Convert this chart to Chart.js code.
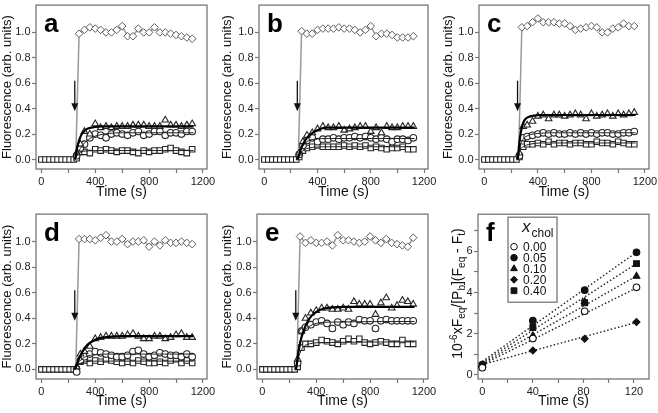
<!DOCTYPE html>
<html>
<head>
<meta charset="utf-8">
<script src="https://cdn.jsdelivr.net/npm/chart.js@4.4.1/dist/chart.umd.min.js"></script>
<style>
  html, body { margin: 0; padding: 0; background: #fff; }
  body { width: 658px; height: 413px; overflow: hidden; position: relative; }
  canvas { position: absolute; }
</style>
</head>
<body>
<canvas id="pa"></canvas>
<canvas id="pb"></canvas>
<canvas id="pc"></canvas>
<canvas id="pd"></canvas>
<canvas id="pe"></canvas>
<canvas id="pf"></canvas>
<script>
// ---- axes ----
const timeTicks = [0, 200, 400, 600, 800, 1000, 1200];
const timeLabels = [0, 400, 800, 1200];
const fluorTicks = [0, 0.2, 0.4, 0.6, 0.8, 1.0];

// ---- sampling times (s) ----
const baseTimes = [0, 30, 60, 90, 120, 150, 180, 210, 240];
const baseValues = [0, 0, 0, 0, 0, 0, 0, 0, 0];
const diamondTimes = [255, 280, 320, 360, 400, 440, 480, 520, 560, 600, 640, 680, 720, 760, 800, 840, 880, 920, 960, 1000, 1040, 1080, 1120];
const postTimes = [262, 290, 320, 360, 400, 440, 480, 520, 560, 600, 640, 680, 720, 760, 800, 840, 880, 920, 960, 1000, 1040, 1080, 1120];

// ---- panel a ----
const aDiamond = [0, 0.99, 1.02, 1.04, 1.03, 1.02, 1.00, 1.00, 1.02, 1.05, 0.97, 0.97, 1.03, 1.00, 1.00, 1.04, 1.00, 1.00, 0.99, 0.98, 0.97, 0.96, 0.95];
const aTriangle = [0.05, 0.12, 0.22, 0.20, 0.28, 0.25, 0.26, 0.25, 0.26, 0.26, 0.26, 0.27, 0.27, 0.27, 0.26, 0.26, 0.26, 0.31, 0.27, 0.27, 0.26, 0.27, 0.28];
const aCircle = [0.03, 0.09, 0.12, 0.17, 0.20, 0.19, 0.17, 0.20, 0.21, 0.20, 0.19, 0.21, 0.22, 0.19, 0.20, 0.22, 0.22, 0.19, 0.21, 0.21, 0.20, 0.22, 0.22];
const aSquare = [0.01, 0.06, 0.06, 0.05, 0.08, 0.07, 0.08, 0.07, 0.06, 0.07, 0.07, 0.06, 0.05, 0.07, 0.06, 0.07, 0.07, 0.08, 0.09, 0.07, 0.06, 0.05, 0.08];
const aTriFit = [[250, 0], [265, 0.09], [280, 0.15], [300, 0.20], [325, 0.23], [350, 0.245], [400, 0.256], [450, 0.26], [1130, 0.26]];
const aCircFit = [[250, 0], [280, 0.07], [320, 0.13], [360, 0.165], [420, 0.19], [500, 0.205], [600, 0.21], [1130, 0.21]];
const aSqFit = [[250, 0], [270, 0.04], [300, 0.06], [350, 0.068], [450, 0.07], [1130, 0.07]];

// ---- panel b ----
const bDiamond = [0, 1.01, 0.99, 0.99, 1.02, 1.03, 1.03, 1.03, 1.04, 1.03, 1.03, 1.02, 1.00, 1.02, 1.05, 0.97, 0.99, 0.99, 0.98, 0.96, 0.96, 0.96, 0.97];
const bTriangle = [0.05, 0.14, 0.19, 0.21, 0.24, 0.26, 0.25, 0.25, 0.26, 0.23, 0.24, 0.25, 0.26, 0.26, 0.22, 0.25, 0.21, 0.26, 0.25, 0.25, 0.26, 0.26, 0.26];
const bCircle = [0.04, 0.11, 0.15, 0.17, 0.14, 0.16, 0.16, 0.17, 0.16, 0.17, 0.17, 0.18, 0.17, 0.18, 0.17, 0.16, 0.17, 0.16, 0.14, 0.16, 0.16, 0.15, 0.17];
const bSquare = [0.02, 0.07, 0.09, 0.10, 0.11, 0.10, 0.10, 0.10, 0.10, 0.11, 0.10, 0.11, 0.10, 0.11, 0.09, 0.10, 0.09, 0.08, 0.09, 0.09, 0.10, 0.08, 0.08];
const bTriFit = [[250, 0], [270, 0.07], [290, 0.12], [320, 0.17], [350, 0.20], [380, 0.22], [420, 0.24], [470, 0.25], [1130, 0.25]];
const bCircFit = [[250, 0], [280, 0.09], [320, 0.14], [380, 0.16], [480, 0.165], [1130, 0.165]];
const bSqFit = [[250, 0], [280, 0.06], [320, 0.085], [380, 0.097], [480, 0.10], [1130, 0.10]];

// ---- panel c ----
const cDiamond = [0, 1.04, 1.05, 1.08, 1.11, 1.08, 1.08, 1.08, 1.07, 1.07, 1.05, 1.02, 1.03, 1.04, 1.05, 1.04, 1.00, 1.00, 1.03, 1.04, 1.07, 1.05, 1.05];
const cTriangle = [0.05, 0.26, 0.27, 0.30, 0.34, 0.35, 0.32, 0.35, 0.35, 0.34, 0.35, 0.36, 0.35, 0.32, 0.36, 0.34, 0.35, 0.36, 0.34, 0.36, 0.35, 0.36, 0.37];
const cCircle = [0.03, 0.17, 0.18, 0.19, 0.20, 0.21, 0.20, 0.21, 0.20, 0.20, 0.21, 0.20, 0.21, 0.20, 0.21, 0.20, 0.21, 0.21, 0.20, 0.20, 0.21, 0.21, 0.22];
const cSquare = [0.02, 0.10, 0.12, 0.12, 0.13, 0.12, 0.14, 0.12, 0.13, 0.13, 0.12, 0.13, 0.13, 0.12, 0.12, 0.14, 0.13, 0.13, 0.12, 0.14, 0.13, 0.12, 0.12];
const cTriFit = [[250, 0], [260, 0.12], [270, 0.20], [285, 0.27], [300, 0.31], [330, 0.335], [370, 0.345], [420, 0.35], [1130, 0.35]];
const cCircFit = [[250, 0], [265, 0.10], [290, 0.16], [330, 0.19], [400, 0.205], [500, 0.21], [1130, 0.21]];
const cSqFit = [[250, 0], [265, 0.07], [290, 0.10], [340, 0.12], [420, 0.13], [1130, 0.13]];

// ---- panel d ----
const dDiamond = [0, 1.02, 1.02, 1.02, 1.01, 1.03, 1.05, 1.00, 1.00, 1.02, 0.98, 1.00, 1.00, 1.01, 0.96, 1.00, 0.97, 1.01, 0.99, 0.99, 1.00, 0.99, 0.98];
const dTriangle = [0.02, 0.12, 0.14, 0.18, 0.24, 0.25, 0.26, 0.26, 0.26, 0.26, 0.27, 0.28, 0.26, 0.24, 0.24, 0.26, 0.26, 0.24, 0.25, 0.27, 0.28, 0.25, 0.25];
const dCircle = [-0.02, 0.07, 0.10, 0.12, 0.14, 0.13, 0.12, 0.11, 0.10, 0.10, 0.11, 0.14, 0.15, 0.12, 0.10, 0.11, 0.13, 0.12, 0.11, 0.11, 0.10, 0.12, 0.10];
const dSquare = [0.00, 0.06, 0.07, 0.05, 0.07, 0.06, 0.08, 0.07, 0.06, 0.05, 0.06, 0.05, 0.07, 0.06, 0.05, 0.05, 0.06, 0.05, 0.07, 0.08, 0.05, 0.07, 0.05];
const dTriFit = [[250, 0], [270, 0.06], [300, 0.13], [340, 0.19], [380, 0.22], [430, 0.245], [500, 0.255], [600, 0.26], [1130, 0.26]];
const dCircFit = [[250, 0], [280, 0.06], [330, 0.10], [400, 0.115], [500, 0.12], [1130, 0.12]];
const dSqFit = [[250, 0], [280, 0.04], [330, 0.06], [420, 0.065], [1130, 0.065]];

// ---- panel e ----
const eDiamond = [0, 1.04, 0.99, 1.01, 0.99, 0.99, 1.00, 0.97, 1.05, 1.01, 1.01, 1.00, 0.99, 1.00, 1.04, 1.01, 0.99, 1.02, 0.99, 0.98, 0.97, 0.96, 1.03];
const eTriangle = [0.08, 0.30, 0.40, 0.44, 0.46, 0.48, 0.48, 0.47, 0.47, 0.48, 0.47, 0.53, 0.51, 0.51, 0.51, 0.43, 0.52, 0.56, 0.48, 0.50, 0.54, 0.53, 0.51];
const eCircle = [0.05, 0.30, 0.33, 0.35, 0.37, 0.38, 0.36, 0.32, 0.37, 0.35, 0.37, 0.36, 0.39, 0.38, 0.38, 0.32, 0.38, 0.39, 0.38, 0.38, 0.38, 0.38, 0.38];
const eSquare = [0.02, 0.17, 0.20, 0.20, 0.21, 0.23, 0.22, 0.21, 0.20, 0.22, 0.24, 0.22, 0.24, 0.21, 0.20, 0.21, 0.22, 0.21, 0.20, 0.20, 0.23, 0.20, 0.20];
const eTriFit = [[250, 0], [270, 0.15], [290, 0.25], [320, 0.34], [350, 0.40], [400, 0.45], [450, 0.475], [520, 0.485], [600, 0.49], [1130, 0.49]];
const eCircFit = [[250, 0], [270, 0.17], [300, 0.28], [340, 0.33], [400, 0.36], [500, 0.37], [1130, 0.375]];
const eSqFit = [[250, 0], [270, 0.10], [300, 0.17], [350, 0.20], [450, 0.21], [1130, 0.215]];

// ---- panel f ----
const fTimes = [0, 40, 81, 122];
const fTicksX = [0, 20, 40, 60, 80, 100, 120];
const fLabelsX = [0, 40, 80, 120];
const fTicksY = [0, 1, 2, 3, 4, 5, 6, 7];
const fLabelsY = [0, 2, 4, 6];
const xcholLabels = ['0.00', '0.05', '0.10', '0.20', '0.40'];
const f000 = [0.35, 1.76, 3.09, 4.25];
const f005 = [0.50, 2.63, 4.11, 5.95];
const f010 = [0.45, 1.90, 3.55, 4.79];
const f020 = [0.40, 1.18, 1.75, 2.57];
const f040 = [0.45, 2.30, 3.50, 5.40];
const fFitEnds = [0, 122];
const f000Fit = [0.50, 4.22];
const f005Fit = [0.65, 5.95];
const f010Fit = [0.55, 4.80];
const f020Fit = [0.50, 2.55];
const f040Fit = [0.60, 5.40];

// arrow marking the injection
const arrowTime = 248;
const arrowFrom = 0.62;
const arrowTo = 0.38;

const FONT = "'Liberation Sans', Arial, Helvetica, sans-serif";
Chart.defaults.font.family = FONT;
Chart.defaults.color = '#222';

const pts = (xs, ys) => xs.map((x, i) => ({ x: x, y: ys[i] }));
const pairs = arr => arr.map(p => ({ x: p[0], y: p[1] }));

// box round the plot area
const framePlugin = {
  id: 'frame',
  beforeDatasetsDraw(chart) {
    const { ctx, chartArea: a } = chart;
    ctx.save();
    ctx.strokeStyle = '#777';
    ctx.lineWidth = 1.3;
    ctx.strokeRect(a.left, a.top, a.right - a.left, a.bottom - a.top);
    ctx.restore();
  }
};

const letterPlugin = {
  id: 'letter',
  afterDraw(chart, args, o) {
    if (!o || !o.text) return;
    const { ctx, chartArea: a } = chart;
    ctx.save();
    ctx.font = 'bold 26px ' + FONT;
    ctx.fillStyle = '#000';
    ctx.textBaseline = 'alphabetic';
    ctx.fillText(o.text, a.left + 8, a.top + 27);
    ctx.restore();
  }
};

const arrowPlugin = {
  id: 'arrow',
  afterDatasetsDraw(chart, args, o) {
    if (!o || o.time == null) return;
    const { ctx, scales } = chart;
    const x = scales.x.getPixelForValue(o.time);
    const y1 = scales.y.getPixelForValue(o.from);
    const y2 = scales.y.getPixelForValue(o.to);
    ctx.save();
    ctx.strokeStyle = '#111';
    ctx.fillStyle = '#111';
    ctx.lineWidth = 1.3;
    ctx.beginPath();
    ctx.moveTo(x, y1);
    ctx.lineTo(x, y2 - 6);
    ctx.stroke();
    ctx.beginPath();
    ctx.moveTo(x, y2);
    ctx.lineTo(x - 3.5, y2 - 8);
    ctx.lineTo(x + 3.5, y2 - 8);
    ctx.closePath();
    ctx.fill();
    ctx.restore();
  }
};

// y title of panel f, with sub and superscripts
const fTitlePlugin = {
  id: 'ftitle',
  afterDraw(chart, args, o) {
    if (!o || !o.show) return;
    const { ctx, chartArea: a } = chart;
    const parts = [
      { t: '10', s: 14, dy: 0 }, { t: '-6', s: 10, dy: -5 }, { t: 'xF', s: 14, dy: 0 },
      { t: 'eq', s: 10, dy: 3 }, { t: '/[P', s: 14, dy: 0 }, { t: 'b', s: 10, dy: 3 },
      { t: '](F', s: 14, dy: 0 }, { t: 'eq', s: 10, dy: 3 }, { t: ' - F', s: 14, dy: 0 },
      { t: 't', s: 10, dy: 3 }, { t: ')', s: 14, dy: 0 }
    ];
    ctx.save();
    let total = 0;
    parts.forEach(p => { ctx.font = p.s + 'px ' + FONT; p.w = ctx.measureText(p.t).width; total += p.w; });
    ctx.translate(a.left - 21, (a.top + a.bottom) / 2 - 3);
    ctx.rotate(-Math.PI / 2);
    ctx.fillStyle = '#111';
    ctx.textBaseline = 'alphabetic';
    let x = -total / 2;
    parts.forEach(p => { ctx.font = p.s + 'px ' + FONT; ctx.fillText(p.t, x, 5 + p.dy); x += p.w; });
    ctx.restore();
  }
};

// legend box of panel f
const fLegendPlugin = {
  id: 'flegend',
  afterDraw(chart, args, o) {
    if (!o || !o.show) return;
    const { ctx, chartArea: a } = chart;
    const bx = a.left + 30, by = a.top + 3, bw = 49, bh = 85;
    ctx.save();
    ctx.fillStyle = '#fff';
    ctx.fillRect(bx, by, bw, bh);
    ctx.strokeStyle = '#777';
    ctx.lineWidth = 1.3;
    ctx.strokeRect(bx, by, bw, bh);
    ctx.fillStyle = '#111';
    ctx.textBaseline = 'alphabetic';
    ctx.font = 'italic 17px ' + FONT;
    ctx.fillText('x', bx + 14, by + 15);
    const xw = ctx.measureText('x').width;
    ctx.font = '12px ' + FONT;
    ctx.fillText('chol', bx + 14 + xw + 1, by + 20);
    const items = chart.data.datasets.filter(d => d.xchol);
    items.forEach((d, i) => {
      const yy = by + 29.5 + i * 11;
      ctx.fillStyle = d.backgroundColor;
      ctx.strokeStyle = d.borderColor;
      ctx.lineWidth = 1;
      Chart.helpers.drawPoint(ctx, { pointStyle: d.pointStyle, radius: d.pointRadius, rotation: 0, borderWidth: 1 }, bx + 6, yy);
      ctx.fillStyle = '#111';
      ctx.font = '12px ' + FONT;
      ctx.textBaseline = 'middle';
      ctx.fillText(d.label, bx + 15, yy + 0.5);
      ctx.textBaseline = 'alphabetic';
    });
    ctx.restore();
  }
};

function axisX(cfg) {
  return {
    type: 'linear', min: cfg.min, max: cfg.max,
    afterBuildTicks: s => { s.ticks = cfg.ticks.map(v => ({ value: v })); },
    afterFit: s => { s.height = cfg.h; s.paddingLeft = 0; s.paddingRight = 0; },
    ticks: { autoSkip: false, maxRotation: 0, padding: 2, color: '#222', font: { size: 11 },
             callback: v => cfg.labels.includes(v) ? String(v) : '' },
    grid: { drawOnChartArea: false, tickLength: 4, tickColor: '#777', tickWidth: 1.2 },
    border: { display: false },
    title: { display: true, text: 'Time (s)', color: '#111', font: { size: 14 }, padding: { top: 0, bottom: 4.2 } }
  };
}

function axisY(cfg) {
  return {
    type: 'linear', min: cfg.min, max: cfg.max,
    afterBuildTicks: s => { s.ticks = cfg.ticks.map(v => ({ value: v })); },
    afterFit: s => { s.width = cfg.w; s.paddingTop = 0; s.paddingBottom = 0; },
    ticks: { autoSkip: false, padding: 1.5, color: '#222', font: { size: 11 },
             callback: cfg.fmt },
    grid: { drawOnChartArea: false, tickLength: 4, tickColor: '#777', tickWidth: 1.2 },
    border: { display: false },
    title: { display: !!cfg.title, text: cfg.title || '', color: '#111', font: { size: 13 }, padding: { top: 0, bottom: 0 } }
  };
}

function placeCanvas(id, left, top, w, h) {
  const c = document.getElementById(id);
  c.width = w; c.height = h;
  c.style.left = left + 'px'; c.style.top = top + 'px';
  c.style.width = w + 'px'; c.style.height = h + 'px';
  return c;
}

const kinetics = [
  { id: 'pa', letter: 'a', left: 0,   top: 0,   w: 228, axisW: 36, axisH: 36, padR: 21, dia: aDiamond, tri: aTriangle, circ: aCircle, sq: aSquare, triFit: aTriFit, circFit: aCircFit, sqFit: aSqFit },
  { id: 'pb', letter: 'b', left: 220, top: 0,   w: 228, axisW: 39, axisH: 36, padR: 20, dia: bDiamond, tri: bTriangle, circ: bCircle, sq: bSquare, triFit: bTriFit, circFit: bCircFit, sqFit: bSqFit },
  { id: 'pc', letter: 'c', left: 441, top: 0,   w: 229, axisW: 38, axisH: 36, padR: 21, dia: cDiamond, tri: cTriangle, circ: cCircle, sq: cSquare, triFit: cTriFit, circFit: cCircFit, sqFit: cSqFit },
  { id: 'pd', letter: 'd', left: 0,   top: 209, w: 228, axisW: 36, axisH: 35, padR: 21, dia: dDiamond, tri: dTriangle, circ: dCircle, sq: dSquare, triFit: dTriFit, circFit: dCircFit, sqFit: dSqFit },
  { id: 'pe', letter: 'e', left: 220, top: 209, w: 228, axisW: 37, axisH: 35, padR: 20, dia: eDiamond, tri: eTriangle, circ: eCircle, sq: eSquare, triFit: eTriFit, circFit: eCircFit, sqFit: eSqFit }
];

const markerColor = '#262626';

kinetics.forEach(p => {
  const canvas = placeCanvas(p.id, p.left, p.top, p.w, 205);
  new Chart(canvas, {
    type: 'scatter',
    data: {
      datasets: [
        { label: 'fit triangles', data: pairs(p.triFit), showLine: true, borderColor: '#000', borderWidth: 2.2, pointRadius: 0, cubicInterpolationMode: 'monotone', order: 0 },
        { label: 'fit circles', data: pairs(p.circFit), showLine: true, borderColor: '#222', borderWidth: 1, pointRadius: 0, cubicInterpolationMode: 'monotone', order: 1 },
        { label: 'fit squares', data: pairs(p.sqFit), showLine: true, borderColor: '#222', borderWidth: 1, pointRadius: 0, cubicInterpolationMode: 'monotone', order: 1 },
        { label: 'triangles', data: pts(postTimes, p.tri), pointStyle: 'triangle', pointRadius: 3.8, borderColor: markerColor, backgroundColor: '#fff', borderWidth: 1.1, order: 2 },
        { label: 'circles', data: pts(postTimes, p.circ), pointStyle: 'circle', pointRadius: 3.3, borderColor: markerColor, backgroundColor: '#fff', borderWidth: 1.1, order: 3 },
        { label: 'squares', data: pts(baseTimes, baseValues).concat(pts(postTimes, p.sq)), pointStyle: 'rect', pointRadius: 3.9, borderColor: markerColor, backgroundColor: '#fff', borderWidth: 1.1, order: 4 },
        { label: 'diamonds', data: pts(diamondTimes, p.dia), showLine: true, borderColor: '#999', borderWidth: 1.5,
          pointStyle: 'rectRot', pointRadius: c => c.dataIndex === 0 ? 0 : 3.8, pointBorderColor: '#5e5e5e', pointBackgroundColor: '#fff', pointBorderWidth: 1, order: 5 }
      ]
    },
    options: {
      responsive: false, animation: false, devicePixelRatio: 1,
      layout: { padding: { left: 0, top: 1, right: p.padR, bottom: 0 } },
      scales: {
        x: axisX({ min: -40, max: 1230, ticks: timeTicks, labels: timeLabels, h: p.axisH }),
        y: axisY({ min: -0.075, max: 1.215, ticks: fluorTicks, w: p.axisW, fmt: v => v.toFixed(1), title: 'Fluorescence (arb. units)' })
      },
      plugins: {
        legend: { display: false }, tooltip: { enabled: false },
        letter: { text: p.letter },
        arrow: { time: arrowTime, from: arrowFrom, to: arrowTo }
      }
    },
    plugins: [framePlugin, letterPlugin, arrowPlugin]
  });
});

// ---- panel f ----
const fSeries = [
  { label: xcholLabels[0], values: f000, fit: f000Fit, style: 'circle',   r: 3.3, fill: '#fff' },
  { label: xcholLabels[1], values: f005, fit: f005Fit, style: 'circle',   r: 3.3, fill: '#111' },
  { label: xcholLabels[2], values: f010, fit: f010Fit, style: 'triangle', r: 3.9, fill: '#111' },
  { label: xcholLabels[3], values: f020, fit: f020Fit, style: 'rectRot',  r: 3.5, fill: '#111' },
  { label: xcholLabels[4], values: f040, fit: f040Fit, style: 'rect',     r: 4.1, fill: '#111' }
];
const fDatasets = [];
fSeries.forEach(s => {
  fDatasets.push({ label: s.label + ' fit', data: pts(fFitEnds, s.fit), showLine: true, borderColor: '#222', borderWidth: 1.4, borderDash: [1.5, 2.2], pointRadius: 0, order: 1 });
});
fSeries.forEach(s => {
  fDatasets.push({ label: s.label, xchol: true, data: pts(fTimes, s.values), pointStyle: s.style, pointRadius: s.r, backgroundColor: s.fill, borderColor: '#111', borderWidth: 1.1, order: 0 });
});

new Chart(placeCanvas('pf', 441, 209, 229, 205), {
  type: 'scatter',
  data: { datasets: fDatasets },
  options: {
    responsive: false, animation: false, devicePixelRatio: 1,
    layout: { padding: { left: 0, top: 1, right: 21, bottom: 0 } },
    scales: {
      x: axisX({ min: -3.4, max: 131.9, ticks: fTicksX, labels: fLabelsX, h: 35 }),
      y: axisY({ min: -0.2, max: 7.8, ticks: fTicksY, w: 37, fmt: v => fLabelsY.includes(v) ? String(v) : '' })
    },
    plugins: {
      legend: { display: false }, tooltip: { enabled: false },
      letter: { text: 'f' },
      ftitle: { show: true },
      flegend: { show: true }
    }
  },
  plugins: [framePlugin, letterPlugin, fTitlePlugin, fLegendPlugin]
});
</script>
</body>
</html>
